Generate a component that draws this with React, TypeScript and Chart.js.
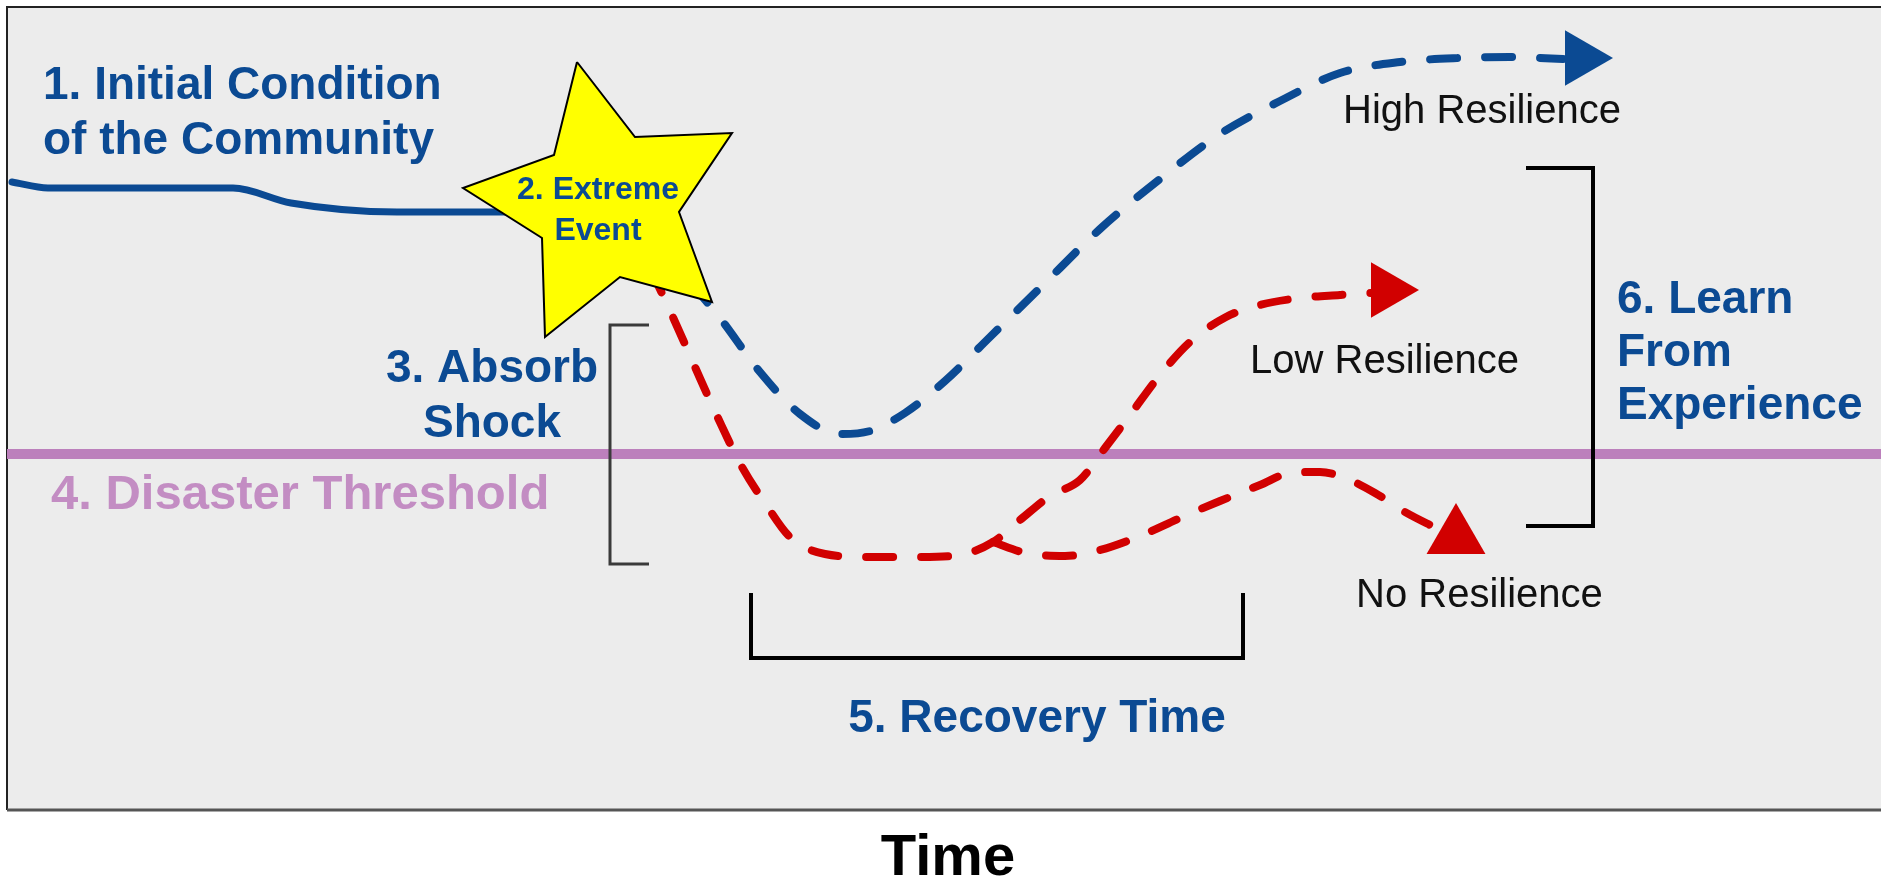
import React, { useEffect, useRef } from "react";
import { Chart, registerables } from "chart.js";

Chart.register(...registerables);

// ---- Data (Time on x, community condition on y; arbitrary units) ----
const initialTime = [0.5, 4.1, 22.6, 28.4, 39.0, 55.3];
const initialLevel = [62.8, 62.2, 62.2, 60.7, 59.8, 59.8];

const highTime = [68.3, 71.3, 75.3, 79.3, 83.3, 86.3, 89.8, 93.8, 98.3, 103.3, 109.3, 115.3, 121.3, 127.3, 133.3, 139.3, 145.3, 150.3, 155.6];
const highLevel = [52.8, 49.2, 43.8, 39.6, 37.6, 37.9, 39.7, 42.9, 47.3, 52.2, 58.1, 63.1, 67.6, 70.9, 73.7, 74.8, 75.2, 75.3, 75.1];

const lowTime = [64.3, 66.5, 68.8, 71.1, 73.5, 75.8, 78.3, 81.8, 86.3, 91.3, 95.3, 98.6, 101.3, 104.3, 107.3, 109.8, 112.3, 115.3, 118.3, 121.9, 125.3, 129.3, 133.3, 136.5];
const lowLevel = [54.2, 49.5, 44.3, 39.2, 34.3, 30.7, 27.3, 25.6, 25.3, 25.3, 25.5, 26.8, 29.0, 31.4, 33.0, 36.2, 39.5, 43.5, 46.8, 49.3, 50.5, 51.2, 51.5, 51.7];

const noTime = [98.6, 101.9, 105.8, 109.3, 113.3, 117.3, 121.3, 125.3, 128.3, 131.3, 133.8, 136.8, 139.8, 143.1];
const noLevel = [26.8, 25.7, 25.4, 26.0, 27.4, 29.2, 30.9, 32.5, 33.7, 33.8, 33.2, 31.7, 29.8, 28.1];

const thresholdTime = [0, 187.4];
const thresholdLevel = [35.6, 35.6];

const starX = [57.0, 62.8, 72.5, 67.2, 70.5, 61.3, 53.8, 53.5, 45.6, 54.7, 57.0];
const starY = [74.8, 67.3, 67.7, 59.8, 50.8, 53.3, 47.3, 57.2, 62.2, 65.5, 74.8];

const absorbBracketX = [64.2, 60.3, 60.3, 64.2];
const absorbBracketY = [48.5, 48.5, 24.6, 24.6];
const recoveryBracketX = [74.4, 74.4, 123.6, 123.6];
const recoveryBracketY = [21.7, 15.2, 15.2, 21.7];
const learnBracketX = [151.9, 158.6, 158.6, 151.9];
const learnBracketY = [64.2, 64.2, 28.4, 28.4];

const arrowX = [157.4, 138.0, 144.9];
const arrowY = [75.2, 52.0, 27.3];

const labelTexts = [
  "1. Initial Condition",
  "of the Community",
  "2. Extreme",
  "Event",
  "3. Absorb",
  "Shock",
  "4. Disaster Threshold",
  "High Resilience",
  "Low Resilience",
  "No Resilience",
  "5. Recovery Time",
  "6. Learn",
  "From",
  "Experience",
  "Time",
];
const labelX = [3.6, 3.6, 59.1, 59.1, 48.5, 48.5, 4.4, 133.6, 124.3, 134.9, 103.0, 161.0, 161.0, 161.0, 94.1];
const labelY = [71.1, 65.6, 61.1, 57.0, 42.8, 37.3, 30.1, 68.7, 43.7, 20.3, 7.8, 49.7, 44.4, 39.1, -6.5];

// ---- Styles ----
const BLUE = "#0b4a93";
const RED = "#d10000";
const PURPLE_LINE = "#bc80bc";
const PURPLE_TEXT = "#c38dc3";
const FONT = "'Liberation Sans', Arial, Helvetica, sans-serif";

type LabelStyle = { size: number; bold: boolean; color: string; align: CanvasTextAlign };
const labelStyles: LabelStyle[] = [
  { size: 46, bold: true, color: BLUE, align: "left" },
  { size: 46, bold: true, color: BLUE, align: "left" },
  { size: 32, bold: true, color: BLUE, align: "center" },
  { size: 32, bold: true, color: BLUE, align: "center" },
  { size: 46, bold: true, color: BLUE, align: "center" },
  { size: 46, bold: true, color: BLUE, align: "center" },
  { size: 49, bold: true, color: PURPLE_TEXT, align: "left" },
  { size: 40, bold: false, color: "#111", align: "left" },
  { size: 40, bold: false, color: "#111", align: "left" },
  { size: 40, bold: false, color: "#111", align: "left" },
  { size: 46, bold: true, color: BLUE, align: "center" },
  { size: 46, bold: true, color: BLUE, align: "left" },
  { size: 46, bold: true, color: BLUE, align: "left" },
  { size: 46, bold: true, color: BLUE, align: "left" },
  { size: 58, bold: true, color: "#000", align: "center" },
];

const pts = (xs: number[], ys: number[]) => xs.map((x, i) => ({ x, y: ys[i] }));

const framePlugin = {
  id: "frame",
  beforeDraw(chart: any) {
    const { ctx, chartArea: a } = chart;
    ctx.save();
    ctx.fillStyle = "#ffffff";
    ctx.fillRect(0, 0, chart.width, chart.height);
    ctx.fillStyle = "#ececec";
    ctx.fillRect(a.left, a.top, a.right - a.left, a.bottom - a.top);
    ctx.strokeStyle = "#222";
    ctx.lineWidth = 2;
    ctx.beginPath();
    ctx.moveTo(a.right, a.top);
    ctx.lineTo(a.left, a.top);
    ctx.lineTo(a.left, a.bottom);
    ctx.stroke();
    ctx.strokeStyle = "#555";
    ctx.lineWidth = 3;
    ctx.beginPath();
    ctx.moveTo(a.left, a.bottom);
    ctx.lineTo(a.right, a.bottom);
    ctx.stroke();
    ctx.restore();
  },
};

const labelPlugin = {
  id: "labels",
  afterDatasetsDraw(chart: any) {
    const { ctx, scales } = chart;
    ctx.save();
    ctx.textBaseline = "alphabetic";
    labelTexts.forEach((t, i) => {
      const s = labelStyles[i];
      ctx.font = `${s.bold ? "bold " : ""}${s.size}px ${FONT}`;
      ctx.fillStyle = s.color;
      ctx.textAlign = s.align;
      ctx.fillText(t, scales.x.getPixelForValue(labelX[i]), scales.y.getPixelForValue(labelY[i]));
    });
    ctx.restore();
  },
};

const dashed = (color: string) => ({
  borderColor: color,
  borderWidth: 8,
  borderDash: [27, 28],
  borderCapStyle: "round" as const,
  cubicInterpolationMode: "monotone" as const,
  pointRadius: 0,
  fill: false,
  order: 2,
});

const bracket = (color: string, width: number) => ({
  borderColor: color,
  borderWidth: width,
  borderCapStyle: "butt" as const,
  borderJoinStyle: "miter" as const,
  tension: 0,
  pointRadius: 0,
  fill: false,
  order: 4,
});

export default function App() {
  const canvasRef = useRef<HTMLCanvasElement | null>(null);

  useEffect(() => {
    if (!canvasRef.current) return;
    const chart = new Chart(canvasRef.current, {
      type: "line",
      data: {
        datasets: [
          {
            label: "Arrow heads",
            data: pts(arrowX, arrowY),
            showLine: false,
            pointStyle: "triangle",
            pointRadius: [32, 32, 34],
            pointRotation: [90, 90, 0],
            pointBackgroundColor: [BLUE, RED, RED],
            pointBorderWidth: 0,
            order: 0,
          } as any,
          {
            label: "2. Extreme Event",
            data: pts(starX, starY),
            borderColor: "#000",
            borderWidth: 2,
            borderJoinStyle: "miter",
            backgroundColor: "#ffff00",
            fill: "shape",
            tension: 0,
            pointRadius: 0,
            order: 1,
          } as any,
          { label: "High Resilience", data: pts(highTime, highLevel), ...dashed(BLUE) } as any,
          { label: "Low Resilience", data: pts(lowTime, lowLevel), ...dashed(RED) } as any,
          { label: "No Resilience", data: pts(noTime, noLevel), ...dashed(RED) } as any,
          {
            label: "1. Initial Condition of the Community",
            data: pts(initialTime, initialLevel),
            borderColor: BLUE,
            borderWidth: 7,
            borderCapStyle: "round",
            borderJoinStyle: "round",
            cubicInterpolationMode: "monotone",
            pointRadius: 0,
            fill: false,
            order: 3,
          } as any,
          { label: "3. Absorb Shock", data: pts(absorbBracketX, absorbBracketY), ...bracket("#3a3a3a", 3) } as any,
          { label: "5. Recovery Time", data: pts(recoveryBracketX, recoveryBracketY), ...bracket("#000", 4) } as any,
          { label: "6. Learn From Experience", data: pts(learnBracketX, learnBracketY), ...bracket("#000", 4) } as any,
          {
            label: "4. Disaster Threshold",
            data: pts(thresholdTime, thresholdLevel),
            borderColor: PURPLE_LINE,
            borderWidth: 10,
            borderCapStyle: "butt",
            tension: 0,
            pointRadius: 0,
            fill: false,
            order: 5,
          } as any,
        ],
      },
      options: {
        animation: false,
        responsive: false,
        maintainAspectRatio: false,
        devicePixelRatio: 1,
        events: [],
        layout: { autoPadding: false, padding: { left: 7, top: 7, right: 0, bottom: 83 } } as any,
        plugins: {
          legend: { display: false },
          tooltip: { enabled: false },
          title: { display: false },
        },
        scales: {
          x: { type: "linear", min: 0, max: 187.4, display: false },
          y: { type: "linear", min: 0, max: 80.3, display: false },
        },
      },
      plugins: [framePlugin, labelPlugin],
    });
    return () => chart.destroy();
  }, []);

  return (
    <div style={{ position: "fixed", left: 0, top: 0, width: 1881, height: 893, background: "#fff" }}>
      <canvas ref={canvasRef} width={1881} height={893} style={{ display: "block" }} />
    </div>
  );
}
